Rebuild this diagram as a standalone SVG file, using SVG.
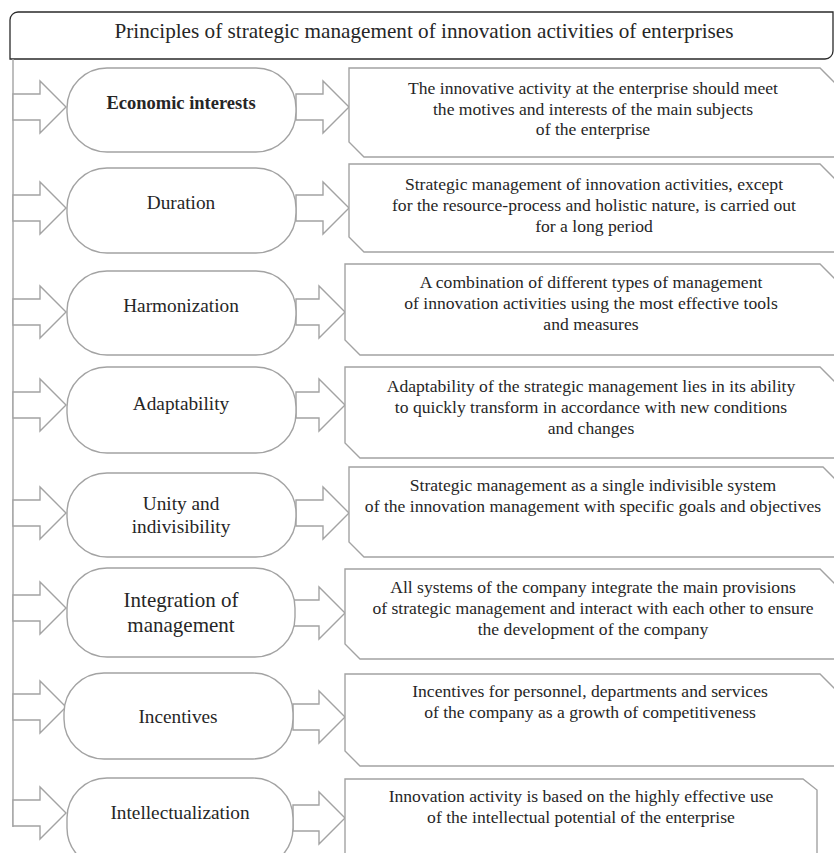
<svg xmlns="http://www.w3.org/2000/svg" width="834" height="853" viewBox="0 0 834 853">
<style>
.sh{fill:#fff;stroke:#a3a3a3;stroke-width:1.4}
.ar{fill:#fff;stroke:#a3a3a3;stroke-width:1.4;stroke-linejoin:miter}
.hd{fill:#fff;stroke:#2a2a2a;stroke-width:1.3}
text{font-family:"Liberation Serif","Times New Roman",serif;fill:#262626;text-anchor:middle}
.t{font-size:19.3px}
.tb{font-size:18.5px;font-weight:bold}
.tl{font-size:21px}
.d{font-size:17.6px}
.h{font-size:21.2px}
</style>
<rect width="834" height="853" fill="#fff"/>
<g id="header">
<path class="hd" d="M10 59 L10 20 A8 8 0 0 1 18 12 L833 12 L833 51 A8 8 0 0 1 825 59 Z"/>
<text class="h" x="424" y="38">Principles of strategic management of innovation activities of enterprises</text>
</g>
<g id="connectors">
<line x1="13" y1="59" x2="13" y2="827" stroke="#a3a3a3" stroke-width="1.4"/>
<polygon class="ar" points="13,94 40,94 40,81 66,107 40,133 40,120 13,120"/>
<polygon class="ar" points="13,195 40,195 40,182 66,208 40,234 40,221 13,221"/>
<polygon class="ar" points="13,299 40,299 40,286 66,312 40,338 40,325 13,325"/>
<polygon class="ar" points="13,392 40,392 40,379 66,405 40,431 40,418 13,418"/>
<polygon class="ar" points="13,500 40,500 40,487 66,513 40,539 40,526 13,526"/>
<polygon class="ar" points="13,595 40,595 40,582 66,608 40,634 40,621 13,621"/>
<polygon class="ar" points="13,694 40,694 40,681 66,707 40,733 40,720 13,720"/>
<polygon class="ar" points="13,800 40,800 40,787 66,813 40,839 40,826 13,826"/>
<polygon class="ar" points="296,94 323,94 323,81 349,107 323,133 323,120 296,120"/>
<polygon class="ar" points="296,195 323,195 323,182 349,208 323,234 323,221 296,221"/>
<polygon class="ar" points="296,299 319,299 319,286 345,312 319,338 319,325 296,325"/>
<polygon class="ar" points="296,392 319,392 319,379 345,405 319,431 319,418 296,418"/>
<polygon class="ar" points="296,500 323,500 323,487 349,513 323,539 323,526 296,526"/>
<polygon class="ar" points="294,600 319,600 319,587 345,613 319,639 319,626 294,626"/>
<polygon class="ar" points="293,704 319,704 319,691 345,717 319,743 319,730 293,730"/>
<polygon class="ar" points="293,805 319,805 319,792 345,818 319,844 319,831 293,831"/>
</g>
<g id="n1">
<rect class="sh" x="67" y="68" width="229" height="84" rx="40" ry="40"/>
<text class="tb" x="181" y="109">Economic interests</text>
<polygon class="sh" points="349,68 820,68 845,93 845,157 364,157 349,142"/>
<text class="d" x="593" y="94">The innovative activity at the enterprise should meet</text>
<text class="d" x="593" y="114.5">the motives and interests of the main subjects</text>
<text class="d" x="593" y="135">of the enterprise</text>
</g>
<g id="n2">
<rect class="sh" x="67" y="168" width="229" height="85" rx="40" ry="40"/>
<text class="t" x="181" y="209">Duration</text>
<polygon class="sh" points="349,164 820,164 845,189 845,252 364,252 349,237"/>
<text class="d" x="594" y="190">Strategic management of innovation activities, except</text>
<text class="d" x="594" y="211">for the resource-process and holistic nature, is carried out</text>
<text class="d" x="594" y="232">for a long period</text>
</g>
<g id="n3">
<rect class="sh" x="67" y="271" width="229" height="84" rx="40" ry="40"/>
<text class="t" x="181" y="312">Harmonization</text>
<polygon class="sh" points="345,264 820,264 845,289 845,355 360,355 345,340"/>
<text class="d" x="591" y="288">A combination of different types of management</text>
<text class="d" x="591" y="309">of innovation activities using the most effective tools</text>
<text class="d" x="591" y="330">and measures</text>
</g>
<g id="n4">
<rect class="sh" x="67" y="367" width="229" height="86" rx="40" ry="40"/>
<text class="t" x="181" y="410">Adaptability</text>
<polygon class="sh" points="345,367 820,367 845,392 845,458 360,458 345,443"/>
<text class="d" x="591" y="392">Adaptability of the strategic management lies in its ability</text>
<text class="d" x="591" y="413">to quickly transform in accordance with new conditions</text>
<text class="d" x="591" y="434">and changes</text>
</g>
<g id="n5">
<rect class="sh" x="67" y="473" width="229" height="84" rx="40" ry="40"/>
<text class="t" x="181" y="510">Unity and</text>
<text class="t" x="181" y="533">indivisibility</text>
<polygon class="sh" points="349,467 823,467 845,489 845,557 364,557 349,542"/>
<text class="d" x="593" y="491">Strategic management as a single indivisible system</text>
<text class="d" x="593" y="512">of the innovation management with specific goals and objectives</text>
</g>
<g id="n6">
<rect class="sh" x="67" y="568" width="228" height="89" rx="40" ry="40"/>
<text class="tl" x="181" y="607">Integration of</text>
<text class="tl" x="181" y="632">management</text>
<polygon class="sh" points="345,569 820,569 845,594 845,659 360,659 345,644"/>
<text class="d" x="593" y="593">All systems of the company integrate the main provisions</text>
<text class="d" x="593" y="614">of strategic management and interact with each other to ensure</text>
<text class="d" x="593" y="635">the development of the company</text>
</g>
<g id="n7">
<rect class="sh" x="64" y="673" width="229" height="86" rx="40" ry="40"/>
<text class="t" x="178" y="723">Incentives</text>
<polygon class="sh" points="345,674 820,674 845,699 845,766 360,766 345,751"/>
<text class="d" x="590" y="697">Incentives for personnel, departments and services</text>
<text class="d" x="590" y="718">of the company as a growth of competitiveness</text>
</g>
<g id="n8">
<rect class="sh" x="67" y="778" width="226" height="90" rx="40" ry="40"/>
<text class="t" x="180" y="819">Intellectualization</text>
<polygon class="sh" points="345,779 803,779 817,790 817,870 360,870 345,855"/>
<text class="d" x="581" y="802">Innovation activity is based on the highly effective use</text>
<text class="d" x="581" y="823">of the intellectual potential of the enterprise</text>
</g>
</svg>
